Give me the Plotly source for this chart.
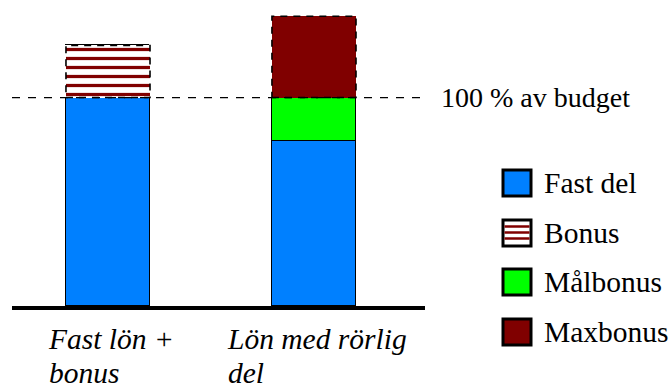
import plotly.graph_objects as go

# Salary models and their stacked components (percent of budget)
categories = ["Fast lön +<br>bonus", "Lön med rörlig<br>del"]
fast_del = [100, 79]
bonus = [25, 0]
malbonus = [0, 21]
maxbonus = [0, 39]
budget_level = 100
budget_label = "100 % av budget"
legend_labels = ["Fast del", "Bonus", "Målbonus", "Maxbonus"]

W, H = 672, 389
M_L, M_R, M_T, M_B = 12, 247, 0, 83
PLOT_W = W - M_L - M_R
PLOT_H = H - M_T - M_B

BLUE = "#0080FF"
GREEN = "#00FF00"
MAROON = "#800000"
SERIF = "Liberation Serif"
BAR_W = 0.408
Y_MAX = 146.8


def px_x(px):
    return (px - M_L) / PLOT_W


def px_y(py):
    return (H - M_B - py) / PLOT_H


fig = go.Figure()
fig.add_bar(x=categories, y=fast_del, name=legend_labels[0], width=BAR_W,
            marker=dict(color=BLUE, line=dict(color="black", width=1.2)))
fig.add_bar(x=categories, y=bonus, name=legend_labels[1], width=BAR_W,
            marker=dict(color="white", line=dict(width=0),
                        pattern=dict(shape="-", fgcolor=MAROON, bgcolor="white",
                                     fgopacity=1, size=9, solidity=0.36)))
fig.add_bar(x=categories, y=malbonus, name=legend_labels[2], width=BAR_W,
            marker=dict(color=GREEN, line=dict(color="black", width=1.2)))
fig.add_bar(x=categories, y=maxbonus, name=legend_labels[3], width=BAR_W,
            marker=dict(color=MAROON, line=dict(width=0)))

shapes = []
# dashed outlines around the variable (bonus) parts
for i in range(len(categories)):
    base = fast_del[i] + malbonus[i]
    extra = bonus[i] + maxbonus[i]
    if extra > 0:
        shapes.append(dict(type="rect", xref="x", yref="y",
                           x0=i - BAR_W / 2, x1=i + BAR_W / 2,
                           y0=base, y1=base + extra,
                           line=dict(color="black", width=1.6, dash="7px,6px"),
                           layer="above"))

# budget reference line
shapes.append(dict(type="line", xref="paper", yref="y",
                   x0=0, x1=px_x(422), y0=budget_level, y1=budget_level,
                   line=dict(color="black", width=1.3, dash="8px,8px"),
                   layer="above"))

annotations = [dict(xref="paper", yref="y", x=px_x(439), y=budget_level,
                    xanchor="left", yanchor="middle", showarrow=False,
                    text=budget_label,
                    font=dict(family=SERIF, size=28, color="black"))]

# category labels under the bars (tighter line spacing via a smaller base size)
for i, cat in enumerate(categories):
    lines = ['<span style="font-size:29.5px"><i>' + part + "</i></span>"
             for part in cat.split("<br>")]
    annotations.append(dict(xref="x", yref="y", x=i, y=0, yshift=-15, xshift=3,
                            xanchor="center", yanchor="top", align="left",
                            showarrow=False, text="<br>".join(lines),
                            font=dict(family=SERIF, size=26, color="black")))

# legend drawn as swatches + labels
legend_rows = [183, 233, 282, 332]
legend_fill = [BLUE, "white", GREEN, MAROON]
sw_x0, sw_x1 = 503, 531
for label, fill, cy in zip(legend_labels, legend_fill, legend_rows):
    shapes.append(dict(type="rect", xref="paper", yref="paper",
                       x0=px_x(sw_x0), x1=px_x(sw_x1),
                       y0=px_y(cy + 13), y1=px_y(cy - 13),
                       fillcolor=fill, line=dict(color="black", width=3)))
    if label == "Bonus":
        for dy in (-6.5, -0.5, 5.5):
            shapes.append(dict(type="line", xref="paper", yref="paper",
                               x0=px_x(sw_x0 + 1.5), x1=px_x(sw_x1 - 1.5),
                               y0=px_y(cy + dy), y1=px_y(cy + dy),
                               line=dict(color=MAROON, width=2.5)))
    annotations.append(dict(xref="paper", yref="paper", x=px_x(542),
                            y=px_y(cy), xanchor="left", yanchor="middle",
                            showarrow=False, text=label,
                            font=dict(family=SERIF, size=29.5, color="black")))

fig.update_layout(
    width=W, height=H, barmode="stack", bargap=0,
    margin=dict(l=M_L, r=M_R, t=M_T, b=M_B, pad=0),
    paper_bgcolor="white", plot_bgcolor="white",
    showlegend=False,
    shapes=shapes, annotations=annotations,
    xaxis=dict(type="category", range=[-0.466, 1.539], showticklabels=False,
               ticks="", showgrid=False, zeroline=False,
               showline=True, linecolor="black", linewidth=4),
    yaxis=dict(range=[0, Y_MAX], visible=False, showgrid=False, zeroline=False),
)

fig.write_html("out.html")
